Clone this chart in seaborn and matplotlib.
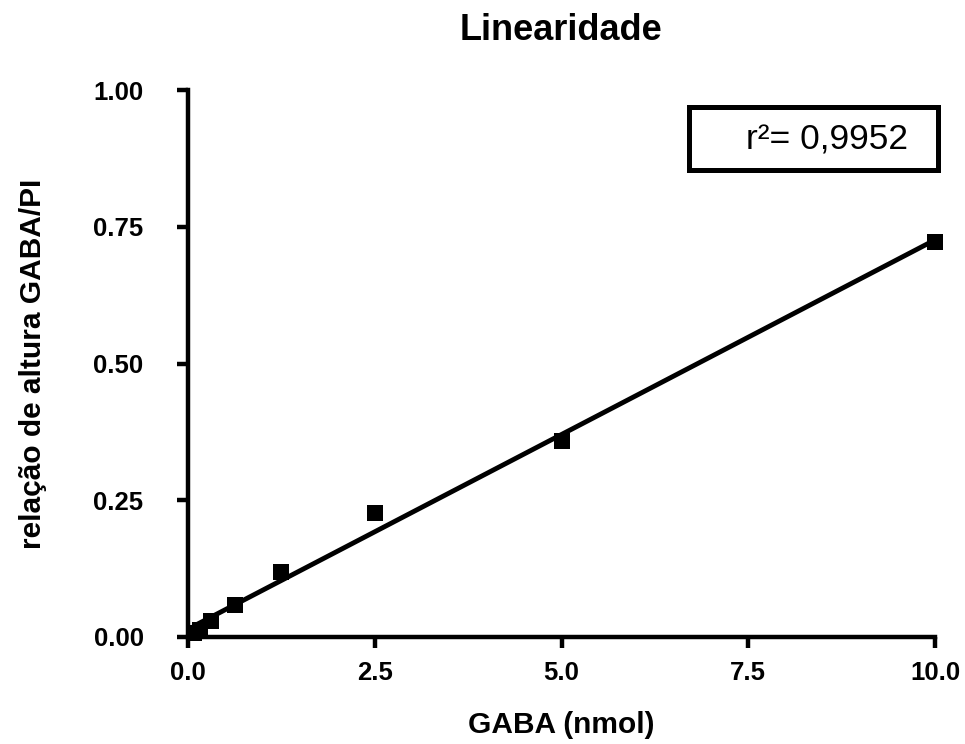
import numpy as np
import pandas as pd
import matplotlib
matplotlib.use("Agg")
import matplotlib.pyplot as plt
from matplotlib.patches import Rectangle
import seaborn as sns

sns.set_style("white")
plt.rcParams['font.family'] = ['Liberation Sans', 'DejaVu Sans']
plt.rcParams['text.color'] = 'black'
plt.rcParams['axes.labelcolor'] = 'black'

gaba_nmol = [0.078, 0.156, 0.3125, 0.625, 1.25, 2.5, 5.0, 10.0]
ratio = [0.007, 0.013, 0.029, 0.058, 0.119, 0.227, 0.358, 0.722]
xticks = [0.0, 2.5, 5.0, 7.5, 10.0]
yticks = [0.00, 0.25, 0.50, 0.75, 1.00]
r2_text = "r²= 0,9952"

df = pd.DataFrame({"x": gaba_nmol, "y": ratio})

fig = plt.figure(figsize=(9.65, 7.44), dpi=100)
ax = fig.add_axes([188/965, 107/744, 747/965, 547/744])

sns.regplot(data=df, x="x", y="y", ax=ax, ci=None, color="black",
            marker="s",
            scatter_kws={"s": 140, "zorder": 3, "linewidths": 0, "alpha": 1,
                         "clip_on": False},
            line_kws={"linewidth": 3.5, "clip_on": False})

ax.set_xlim(0, 10)
ax.set_ylim(0, 1)
ax.set_xticks(xticks)
ax.set_yticks(yticks)
ax.set_xticklabels([f"{v:.1f}" for v in xticks], fontsize=18.5, fontweight="bold")
ax.set_yticklabels([f"{v:.2f}" for v in yticks], fontsize=18.5, fontweight="bold")
for s in ["top", "right"]:
    ax.spines[s].set_visible(False)
for s in ["left", "bottom"]:
    ax.spines[s].set_linewidth(3.2)
    ax.spines[s].set_color("black")
ax.tick_params(axis="both", direction="out", length=8, width=3.2, colors="black",
               left=True, bottom=True)
ax.tick_params(axis="y", pad=24)
ax.tick_params(axis="x", pad=9)

ax.set_xlabel("GABA (nmol)", fontsize=21.5, fontweight="bold", va="center")
ax.xaxis.set_label_coords(0.5, (637 - 725) / 547)
ax.set_ylabel("relação de altura GABA/PI", fontsize=21.5, fontweight="bold", va="center")
ax.yaxis.set_label_coords((33 - 188) / 747, 0.5)
ax.set_title("Linearidade", fontsize=26, fontweight="bold", va="center",
             y=(637 - 31) / 547, pad=0)

rect = Rectangle((0.6707, 0.854), 0.333, 0.115, transform=ax.transAxes,
                 fill=False, edgecolor="black", linewidth=3.6, clip_on=False)
ax.add_patch(rect)
ax.text(0.855, (637 - 150) / 547, r2_text, transform=ax.transAxes, ha="center",
        va="baseline", fontsize=25.5)

fig.savefig("out.png", dpi=100)
